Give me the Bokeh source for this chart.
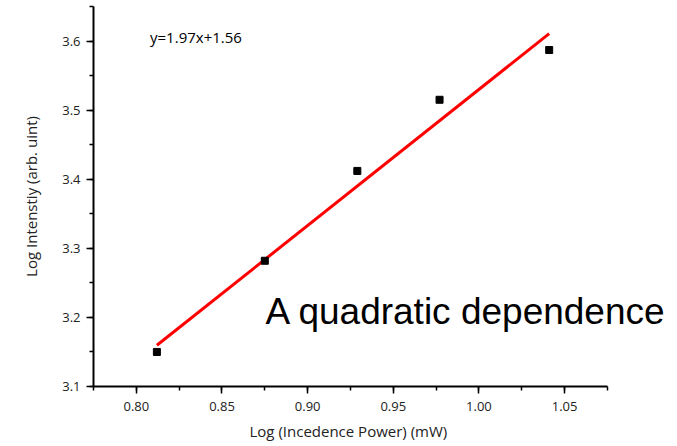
from bokeh.plotting import figure
from bokeh.models import Label, Range1d, SingleIntervalTicker, PrintfTickFormatter, Title
from bokeh.embed import file_html
from bokeh.resources import INLINE

# Data
log_power = [0.812, 0.875, 0.929, 0.977, 1.041]
log_intensity = [3.150, 3.282, 3.412, 3.515, 3.587]
fit_slope = 1.97
fit_intercept = 1.56
fit_label = "y=1.97x+1.56"
note_text = "A quadratic dependence"
x_title = "Log (Incedence Power) (mW)"
y_title = "Log Intenstiy (arb. uint)"

fit_x = [min(log_power), max(log_power)]
fit_y = [fit_slope * v + fit_intercept for v in fit_x]

x_axis_span = (0.775, 1.075)
p = figure(width=677, height=446, output_backend="svg", toolbar_location=None,
           x_range=Range1d(0.775, 1.1159), y_range=Range1d(3.1, 3.65),
           min_border_left=93, min_border_right=0, min_border_top=6, min_border_bottom=0)
p.outline_line_color = None
p.grid.visible = False
p.background_fill_color = "white"
p.border_fill_color = "white"

p.line(fit_x, fit_y, line_color="#ff0000", line_width=3)
p.scatter(log_power, log_intensity, marker="square", size=7, fill_color="black", line_color="black")

FONT = "Open Sans"
for ax in (p.xaxis[0], p.yaxis[0]):
    ax.axis_line_width = 2
    ax.axis_line_color = "black"
    ax.major_tick_line_width = 1.5
    ax.minor_tick_line_width = 1.5
    ax.major_tick_in = 0
    ax.major_tick_out = 7
    ax.minor_tick_in = 0
    ax.minor_tick_out = 4
    ax.major_label_text_font = FONT
    ax.major_label_text_font_size = "13px"
    ax.major_label_text_color = "#222222"
    ax.axis_label_text_font = FONT
    ax.axis_label_text_font_size = "15px"
    ax.axis_label_text_font_style = "normal"
    ax.axis_label_text_color = "#222222"

p.xaxis[0].bounds = x_axis_span
p.xaxis[0].ticker = SingleIntervalTicker(interval=0.05, num_minor_ticks=2)
p.yaxis[0].ticker = SingleIntervalTicker(interval=0.1, num_minor_ticks=2)
p.xaxis[0].formatter = PrintfTickFormatter(format="%.2f")
p.yaxis[0].formatter = PrintfTickFormatter(format="%.1f")
p.yaxis[0].axis_label = y_title
p.xaxis[0].major_label_standoff = 8
p.yaxis[0].major_label_standoff = 6
p.yaxis[0].axis_label_standoff = 18

p.add_layout(Title(text=x_title, align="left", offset=156, text_font=FONT,
                   text_font_size="15px", text_font_style="normal", text_color="#222222",
                   standoff=11), "below")

p.add_layout(Label(x=0.808, y=3.6065, text=fit_label, text_font=FONT, text_font_size="15px",
                   text_baseline="middle", text_align="left", text_color="black"))
p.add_layout(Label(x=0.8754, y=3.208, text=note_text, text_font="Liberation Sans",
                   text_font_size="37px", text_baseline="alphabetic", text_align="left",
                   text_color="black"))

open("out.html", "w").write(file_html(p, INLINE))
